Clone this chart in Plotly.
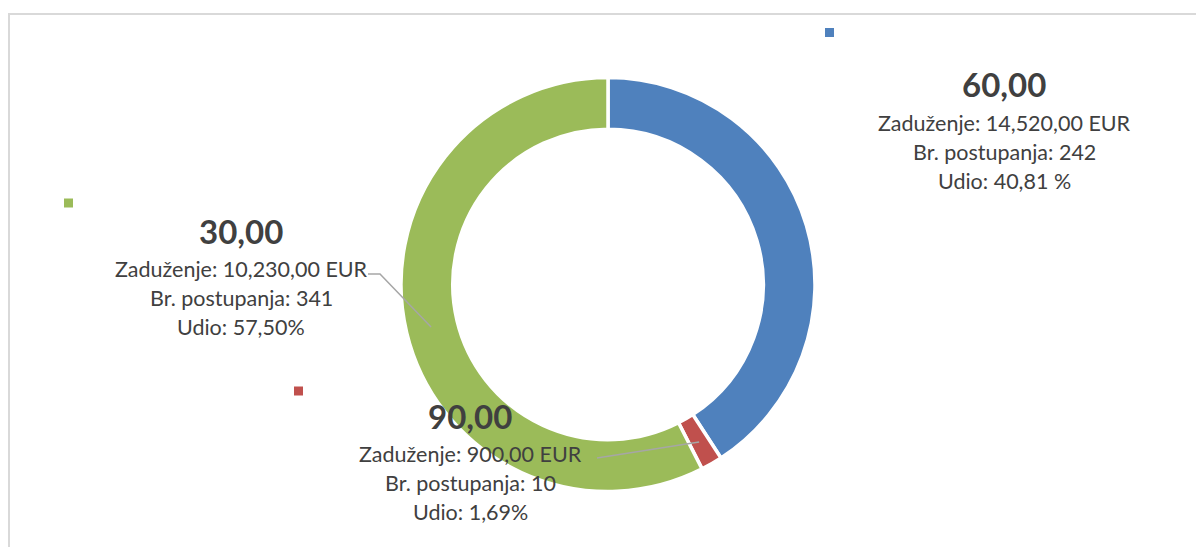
import math

import plotly.graph_objects as go

W, H = 1196, 547

# data
postupanja = [242, 10, 341]
headline = ["60,00", "90,00", "30,00"]
zaduzenje = ["14,520,00 EUR", "900,00 EUR", "10,230,00 EUR"]
udio = ["40,81 %", "1,69%", "57,50%"]
colors = ["#4F81BD", "#C0504D", "#9BBB59"]

# layout helpers (pixels -> paper)
def px_x(v):
    return v / W


def px_y(v):
    return 1 - v / H


cx, cy, R = 608, 284.5, 207
hole = 0.75
text_color = "#404040"

fig = go.Figure()
fig.add_pie(
    values=postupanja,
    labels=headline,
    marker=dict(colors=colors, line=dict(color="white", width=3.5)),
    hole=hole,
    sort=False,
    direction="clockwise",
    rotation=0,
    textinfo="none",
    hoverinfo="none",
    showlegend=False,
    domain=dict(x=[px_x(cx - R), px_x(cx + R)], y=[px_y(cy + R), px_y(cy - R)]),
)

# label block positions (center x, headline middle) and legend key squares
label_pos = [(1004, 84.5), (470, 415.5), (241, 230.5)]
key_pos = [(829.5, 32.5), (298.5, 391), (68.5, 203)]

annotations = []
shapes = []
for i in range(len(postupanja)):
    lx, ly = label_pos[i]
    annotations.append(dict(
        x=px_x(lx), y=px_y(ly), xref="paper", yref="paper", showarrow=False,
        text=f"<b>{headline[i]}</b>", font=dict(family="Lato", size=33, color=text_color),
        xanchor="center", yanchor="middle",
    ))
    lines = [f"Zaduženje: {zaduzenje[i]}", f"Br. postupanja: {postupanja[i]}", f"Udio: {udio[i]}"]
    for j, t in enumerate(lines):
        annotations.append(dict(
            x=px_x(lx), y=px_y(ly + 38 + 29.3 * j), xref="paper", yref="paper", showarrow=False,
            text=t, font=dict(family="Lato", size=21.5, color=text_color),
            xanchor="center", yanchor="middle",
        ))
    kx, ky = key_pos[i]
    shapes.append(dict(
        type="rect", xref="paper", yref="paper",
        x0=px_x(kx - 4.5), x1=px_x(kx + 4.5), y0=px_y(ky + 4.5), y1=px_y(ky - 4.5),
        fillcolor=colors[i], line=dict(width=0),
    ))

# leader lines to slice midpoints
total = sum(postupanja)
cum = 0
mids = []
for v in postupanja:
    mids.append((cum + v / 2) / total * 2 * math.pi)
    cum += v
r_mid = 182


def slice_point(k):
    a = mids[k]
    return cx + r_mid * math.sin(a), cy - r_mid * math.cos(a)


leader_color = "#A6A6A6"
ex, ey = slice_point(2)
shapes.append(dict(type="path", xref="paper", yref="paper",
                   path=f"M {px_x(368)},{px_y(274)} L {px_x(380)},{px_y(274)} L {px_x(ex)},{px_y(ey)}",
                   line=dict(color=leader_color, width=1.5)))
ex, ey = slice_point(1)
shapes.append(dict(type="line", xref="paper", yref="paper",
                   x0=px_x(597), y0=px_y(458), x1=px_x(ex), y1=px_y(ey),
                   line=dict(color=leader_color, width=1.5)))

# chart frame, cut off at the right and bottom
shapes.append(dict(type="rect", xref="paper", yref="paper",
                   x0=px_x(9), y0=-0.05, x1=1.05, y1=px_y(14),
                   line=dict(color="#D9D9D9", width=2), fillcolor="rgba(0,0,0,0)", layer="below"))

fig.update_layout(
    width=W,
    height=H,
    margin=dict(l=0, r=0, t=0, b=0),
    paper_bgcolor="white",
    plot_bgcolor="white",
    annotations=annotations,
    shapes=shapes,
)

fig.write_html(
    "out.html",
    config={"displayModeBar": False},
    post_script="document.body.style.margin='0';document.body.style.overflow='hidden';",
)
